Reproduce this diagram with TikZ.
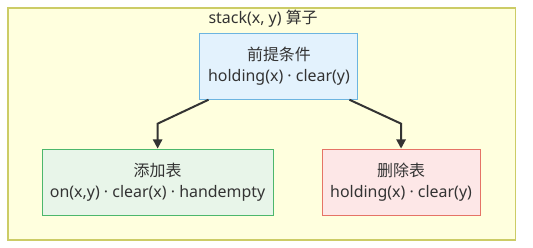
\documentclass[tikz,border=0pt]{standalone}
\usepackage{fontspec}
\setmainfont{Noto Sans}
\newfontfamily\cjk{Noto Sans CJK SC}
\usepackage{xcolor}
\usepackage{tikz}
\usetikzlibrary{arrows.meta, positioning, calc, backgrounds}
\definecolor{opfill}{RGB}{255,255,222}
\definecolor{opline}{RGB}{204,204,102}
\definecolor{prefill}{RGB}{227,242,253}
\definecolor{preline}{RGB}{108,180,224}
\definecolor{addfill}{RGB}{232,245,233}
\definecolor{addline}{RGB}{76,183,108}
\definecolor{delfill}{RGB}{253,231,231}
\definecolor{delline}{RGB}{229,115,102}
\definecolor{inkgray}{RGB}{51,51,51}
\tikzset{
  part/.style   = {rectangle, draw=#1line, fill=#1fill, line width=0.75pt,
                   minimum height=1.75cm, align=center,
                   font=\fontsize{12}{16}\selectfont, text=inkgray},
  flow/.style   = {-{Triangle[length=7pt, width=7pt]}, line width=1.5pt,
                   draw=inkgray},
}

\begin{document}
\begin{tikzpicture}
  \useasboundingbox (0,0) rectangle (14.10,6.56);
  \draw[draw=opline, fill=opfill, line width=1pt] (0.21,0.21) rectangle (13.63,6.35);
  \node[font=\fontsize{12}{16}\selectfont, text=inkgray] (title) at (6.96, 6.06)
    {stack(x, y) {\cjk 算子}};

  \node[part=pre, minimum width=4.18cm] (pre)  at (7.38, 4.81)
    {{\cjk 前提条件}\\holding(x) · clear(y)};
  \node[part=add, minimum width=6.11cm] (add)  at (4.17, 1.74)
    {{\cjk 添加表}\\on(x,y) · clear(x) · handempty};
  \node[part=del, minimum width=4.18cm] (del)  at (10.61, 1.74)
    {{\cjk 删除表}\\holding(x) · clear(y)};

  \draw[flow] ([xshift=0.24cm]pre.south west) -- ([yshift=0.66cm]add.north)
    -- (add.north);
  \draw[flow] ([xshift=-0.24cm]pre.south east) -- ([yshift=0.66cm]del.north)
    -- (del.north);
\end{tikzpicture}
\end{document}
